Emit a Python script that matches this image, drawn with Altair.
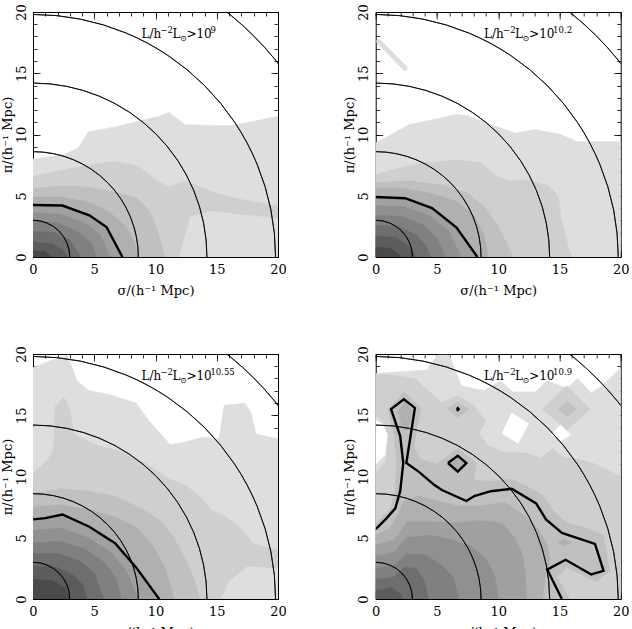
import math
import altair as alt
import pandas as pd

# ---------------------------------------------------------------- data ----
RADII = [3.0, 8.6, 14.2, 19.8, 25.5]          # reference circles, h^-1 Mpc

GREYS = ["#dedede", "#cfcfcf", "#c0c0c0", "#b0b0b0", "#a0a0a0",
         "#909090", "#808080", "#6e6e6e", "#5c5c5c", "#4a4a4a"]

# Each band is the outer boundary of one contour level, outermost first,
# running from the pi axis round to the sigma axis; the region it encloses
# with the origin is filled with that level's grey.
P1_BANDS = [
    [(0, 8.0), (2.5, 8.35), (3.7, 8.9), (4.5, 10.2), (6.6, 10.6), (10.3, 11.5), (11.1, 11.8),
     (12.4, 10.8), (16.0, 10.7), (17.9, 11.05), (20, 11.5), (20, 0)],
    [(0, 6.6), (1.5, 6.9), (4.0, 7.4), (6.7, 7.8), (8.6, 7.4), (10.0, 6.3), (11.1, 5.7), (12.4, 6.2),
     (14.9, 5.2), (17.0, 4.7), (20, 4.15), (20, 3.2), (17.0, 3.5), (14.5, 3.8), (12.8, 3.3), (11.9, 0)],
    [(0, 5.6), (2.5, 5.8), (4.5, 5.7), (6.7, 5.3), (8.5, 4.8), (9.5, 3.8), (10.1, 2.4), (10.5, 1.0), (10.7, 0)],
    [(0, 4.9), (2.3, 4.9), (4.5, 4.5), (6.2, 3.7), (7.6, 2.5), (8.3, 1.2), (8.5, 0)],
    [(0, 4.25), (2.4, 4.2), (4.6, 3.4), (6.0, 2.45), (7.3, 0)],
    [(0, 3.6), (2.2, 3.5), (4.2, 2.8), (5.5, 1.8), (6.3, 0)],
    [(0, 2.9), (2.0, 2.8), (3.6, 2.1), (4.7, 1.2), (5.2, 0)],
    [(0, 2.1), (1.8, 2.0), (3.0, 1.4), (3.9, 0)],
    [(0, 1.2), (1.5, 1.1), (2.5, 0.5), (2.8, 0)],
    [(0, 0.5), (1.0, 0.45), (1.5, 0)],
]
P1_KEY = [[(0, 4.25), (2.4, 4.2), (4.6, 3.4), (6.0, 2.45), (7.3, 0)]]

P2_BANDS = [
    [(0, 9.3), (1.3, 10.0), (2.7, 10.8), (5.1, 11.3), (6.6, 11.65), (7.6, 11.5), (10.0, 10.6),
     (11.4, 10.1), (13.0, 10.4), (15.1, 10.0), (16.5, 9.4), (20, 9.4), (20, 0)],
    [(0, 6.7), (1.3, 7.1), (4.0, 7.7), (6.7, 7.9), (8.6, 7.7), (9.7, 6.7), (10.8, 6.2), (12.4, 6.3),
     (14.1, 5.8), (14.9, 5.0), (15.1, 3.3), (15.7, 0.9), (16.0, 0)],
    [(0, 6.1), (3.0, 6.2), (5.7, 5.8), (7.5, 5.2), (8.9, 4.1), (10.0, 2.5), (10.8, 0.9), (11.2, 0)],
    [(0, 5.6), (2.3, 5.6), (4.5, 5.2), (6.7, 4.5), (8.0, 3.4), (8.8, 1.9), (9.2, 0)],
    [(0, 4.9), (2.4, 4.8), (4.6, 4.0), (6.6, 2.4), (8.3, 0)],
    [(0, 4.2), (2.3, 4.1), (4.3, 3.4), (5.9, 2.2), (7.0, 0)],
    [(0, 3.4), (2.1, 3.3), (3.9, 2.6), (5.0, 1.5), (5.7, 0)],
    [(0, 2.6), (1.9, 2.5), (3.3, 1.8), (4.1, 0.9), (4.5, 0)],
    [(0, 1.7), (1.6, 1.6), (2.7, 0.9), (3.3, 0)],
    [(0, 0.8), (1.3, 0.7), (2.1, 0)],
]
P2_KEY = [[(0, 4.9), (2.4, 4.8), (4.6, 4.0), (6.6, 2.4), (8.3, 0)]]
P2_STREAK = [(0.25, 17.6), (2.4, 15.4)]      # narrow sliver of the lowest level

P3_BANDS = [
    [(0, 18.9), (1.3, 19.4), (2.8, 19.9), (3.6, 17.8), (4.6, 17.0), (6.2, 16.7), (8.4, 16.0),
     (9.5, 14.5), (10.5, 13.4), (11.2, 12.6), (12.4, 12.8), (13.8, 13.2), (15.2, 13.1), (15.6, 15.8),
     (17.3, 16.0), (17.8, 15.2), (18.2, 13.5), (19.3, 13.2), (20, 13.1), (20, 0)],
    [(0, 10.3), (1.2, 11.3), (1.7, 12.3), (1.8, 15.7), (2.5, 16.5), (3.0, 15.5), (3.3, 13.5),
     (5.0, 12.6), (7.0, 12.1), (9.0, 11.2), (11.1, 9.8), (12.4, 9.3), (13.6, 8.4), (14.6, 7.2),
     (15.6, 6.8), (16.8, 5.9), (18.0, 4.5), (20, 4.0), (20, 2.5), (17.5, 2.7), (16.0, 1.5), (15.3, 0)],
    [(0, 8.6), (2.2, 9.0), (4.5, 8.8), (6.7, 8.4), (9.0, 7.3), (10.5, 6.3), (11.5, 5.0),
     (12.4, 3.3), (13.2, 1.5), (13.6, 0)],
    [(0, 7.5), (2.2, 7.7), (4.5, 7.3), (6.7, 6.7), (8.5, 5.8), (9.8, 4.3), (10.8, 2.5), (11.5, 0)],
    [(0, 6.5), (1.0, 6.6), (2.4, 6.9), (4.6, 5.9), (6.7, 4.55), (8.4, 2.6), (10.3, 0)],
    [(0, 5.6), (2.3, 5.8), (4.5, 5.0), (6.4, 3.8), (7.6, 2.3), (8.6, 0)],
    [(0, 4.6), (2.2, 4.7), (4.2, 4.1), (5.8, 3.0), (6.8, 1.7), (7.2, 0)],
    [(0, 3.7), (2.1, 3.7), (3.8, 3.1), (5.0, 2.1), (5.8, 0)],
    [(0, 2.7), (1.9, 2.6), (3.2, 2.0), (4.1, 1.1), (4.4, 0)],
    [(0, 1.6), (1.6, 1.5), (2.6, 0.9), (3.0, 0)],
]
P3_KEY = [[(0, 6.5), (1.0, 6.6), (2.4, 6.9), (4.6, 5.9), (6.7, 4.55), (8.4, 2.6), (10.3, 0)]]

P4_BANDS = [
    [(0, 18.4), (4.2, 18.7), (5.0, 19.9), (6.0, 19.9), (7.0, 17.4), (8.8, 17.0), (10.2, 17.8),
     (11.2, 16.9), (13.0, 16.9), (14.0, 17.8), (15.6, 17.2), (16.5, 18.0), (17.6, 16.8),
     (18.5, 17.4), (19.6, 18.5), (20, 18.8), (20, 0)],
    [(0, 10.3), (0.8, 11.2), (1.0, 13.4), (0.5, 14.6), (0, 15.0), (0, 18.3), (1.0, 18.3), (3.2, 18.0),
     (4.3, 17.0), (5.4, 16.0), (6.7, 16.6), (8.0, 15.8), (9.0, 14.5), (8.4, 13.5), (9.2, 12.5),
     (10.4, 12.0), (12.3, 11.9), (13.5, 11.5), (14.5, 12.3), (15.2, 11.6), (16.5, 11.4),
     (18.0, 11.0), (19.0, 10.5), (20, 10.0), (20, 0)],
    [(0, 6.2), (1.2, 7.3), (1.6, 9.0), (1.7, 11.1), (1.5, 13.4), (1.0, 15.5), (2.3, 16.9), (3.7, 15.6),
     (3.1, 12.5), (3.6, 11.4), (5.0, 11.0), (6.7, 12.3), (8.2, 11.1), (8.0, 9.7), (9.5, 9.6),
     (11.1, 9.8), (12.3, 9.2), (13.6, 8.5), (14.5, 7.2), (15.6, 6.2), (17.2, 5.8), (18.6, 5.2),
     (19.1, 2.3), (18.0, 1.4), (15.6, 2.6), (14.8, 1.8), (15.8, 0)],
    [(0, 5.2), (1.2, 5.8), (1.9, 7.0), (2.3, 8.0), (3.5, 8.4), (5.0, 8.0), (6.7, 7.6), (8.5, 7.6),
     (10.5, 7.9), (12.0, 6.9), (13.2, 5.8), (14.0, 4.5), (14.2, 3.2), (13.8, 1.6), (13.6, 0)],
    [(0, 4.4), (1.5, 4.8), (2.6, 6.3), (4.5, 6.3), (6.7, 6.2), (8.5, 6.4), (10.3, 6.2), (11.3, 5.0),
     (12.0, 3.6), (12.2, 2.0), (12.3, 0)],
    [(0, 3.5), (1.5, 3.8), (2.5, 5.0), (4.4, 5.2), (6.0, 4.9), (7.8, 4.3), (9.0, 3.3), (9.7, 2.0), (10.0, 0)],
    [(0, 2.5), (1.6, 2.8), (2.5, 3.7), (4.0, 3.6), (5.3, 2.8), (6.3, 1.8), (6.8, 0)],
    [(0, 1.6), (1.5, 1.8), (2.3, 2.6), (3.3, 2.5), (4.0, 1.4), (4.3, 0)],
    [(0, 0.7), (1.3, 0.9), (2.0, 0.4), (2.2, 0)],
]
# detached patches of a level: (level index, outline)
P4_ISLANDS = [
    (1, [(13.6, 15.5), (15.6, 17.4), (17.5, 15.5), (15.6, 13.8)]),
    (2, [(14.9, 15.5), (15.6, 16.1), (16.4, 15.5), (15.6, 14.9)]),
    (2, [(5.8, 15.5), (6.7, 16.1), (7.6, 15.5), (6.7, 14.8)]),
    (3, [(1.8, 15.3), (2.4, 16.1), (3.0, 15.3), (2.6, 13.8), (2.2, 13.8)]),
    (3, [(6.1, 11.1), (6.7, 11.6), (7.3, 11.1), (6.7, 10.5)]),
    (3, [(14.8, 4.6), (15.4, 4.9), (16.0, 4.6), (15.4, 4.3)]),
]
# gaps below the lowest level
P4_HOLES = [
    [(0, 11.0), (0.8, 11.8), (1.0, 13.4), (0.5, 14.3), (0, 14.6)],
    [(10.3, 13.5), (11.1, 15.2), (12.5, 14.3), (11.6, 12.7)],
    [(14.3, 13.4), (15.1, 14.2), (15.9, 13.4), (15.1, 12.9)],
]
P4_KEY = [
    [(0, 5.7), (0.8, 6.5), (1.6, 7.4), (2.0, 8.8), (2.25, 11.1), (2.0, 13.3), (1.25, 15.5),
     (2.3, 16.3), (3.2, 15.6), (2.5, 11.1), (3.5, 10.4), (4.8, 9.3), (5.4, 8.9), (7.4, 8.0),
     (8.05, 8.4), (9.4, 8.8), (11.1, 9.0), (13.1, 7.8), (13.9, 6.5), (15.2, 5.4), (17.9, 4.5),
     (18.6, 2.3), (17.6, 2.0), (15.5, 3.2), (14.0, 2.4), (15.2, 0)],
    [(5.9, 11.1), (6.7, 11.7), (7.4, 11.1), (6.7, 10.4), (5.9, 11.1)],
    [(6.62, 15.5), (6.7, 15.58), (6.78, 15.5), (6.7, 15.42), (6.62, 15.5)],
]

EXPONENTS = ["9", "10.2", "10.55", "10.9"]
LABEL_POS = (8.85, 17.9)

MAJOR = [0, 5, 10, 15, 20]
MINOR = list(range(21))
X_TITLE = "σ/(h⁻¹ Mpc)"
Y_TITLE = "π/(h⁻¹ Mpc)"

# -------------------------------------------------------------- styling ----
W = H = 245
FONT = "DejaVu Serif"
XS = alt.Scale(domain=[0, 20], nice=False, zero=False)
YS = alt.Scale(domain=[0, 20], nice=False, zero=False)


def poly_frame(polys):
    rows = []
    for j, pts in enumerate(polys):
        for i, (s, p) in enumerate(pts):
            rows.append({"poly": j, "i": i, "s": s, "p": p})
    return pd.DataFrame(rows)


def fill_layer(polys, colour):
    return alt.Chart(poly_frame(polys)).mark_line(
        fill=colour, stroke=colour, strokeWidth=0.6, clip=True
    ).encode(
        x=alt.X("s:Q", scale=XS, axis=None),
        y=alt.Y("p:Q", scale=YS, axis=None),
        detail="poly:N",
        order="i:Q",
    )


def axis(orient, values, size, **kw):
    return alt.Axis(orient=orient, values=values, tickSize=size, offset=-size,
                    domain=False, grid=False, tickColor="black", tickWidth=0.8,
                    labelFlush=False, labelOverlap=False, **kw)


def axis_layer(xaxis, yaxis):
    return alt.Chart(pd.DataFrame({"s": [0], "p": [0]})).mark_point(opacity=0).encode(
        x=alt.X("s:Q", scale=XS, axis=xaxis),
        y=alt.Y("p:Q", scale=YS, axis=yaxis),
    )


LABEL_KW = dict(labelFont=FONT, labelFontSize=13, labelColor="black",
                titleFont=FONT, titleFontSize=13, titleFontWeight="normal", titleColor="black")


def panel(bands, key_lines, exponent, islands=(), holes=(), streak=None):
    layers = []
    for k, band in enumerate(bands):
        polys = [[(0, 0)] + band] + [pts for lev, pts in islands if lev == k]
        layers.append(fill_layer(polys, GREYS[k]))
        if k == 0:
            if streak:
                layers.append(
                    alt.Chart(poly_frame([streak])).mark_line(
                        color=GREYS[0], strokeWidth=5, strokeCap="round", clip=True
                    ).encode(x=alt.X("s:Q", scale=XS, axis=None),
                             y=alt.Y("p:Q", scale=YS, axis=None),
                             detail="poly:N", order="i:Q"))
            if holes:
                layers.append(fill_layer(list(holes), "white"))

    arcs = alt.Chart(pd.DataFrame({"r": RADII})).mark_arc(
        theta=0, theta2=math.pi / 2, filled=False, stroke="black", strokeWidth=0.8, clip=True
    ).encode(
        x=alt.X(datum=0, axis=None),
        y=alt.Y(datum=0, axis=None),
        radius=alt.Radius("r:Q", scale=alt.Scale(type="linear", domain=[0, 20], range=[0, W])),
        radius2=alt.Radius2("r:Q"),
    )
    layers.append(arcs)

    key = alt.Chart(poly_frame(key_lines)).mark_line(
        color="black", strokeWidth=2.4, strokeJoin="miter", clip=True
    ).encode(
        x=alt.X("s:Q", scale=XS, axis=None),
        y=alt.Y("p:Q", scale=YS, axis=None),
        detail="poly:N",
        order="i:Q",
    )
    layers.append(key)

    # L/h^-2 L_sun > 10^exponent, set piece by piece
    pos = pd.DataFrame({"s": [LABEL_POS[0]], "p": [LABEL_POS[1]]})
    pieces = [("L/h", 0, 0, 12), ("−2", 19, -5, 8.5), ("L", 31, 0, 12),
              ("⊙", 38.5, 3, 8), (">10", 45, 0, 12), (exponent, 69, -5, 8.5)]
    for txt, dx, dy, fs in pieces:
        layers.append(alt.Chart(pos).mark_text(
            text=txt, align="left", baseline="alphabetic", dx=dx, dy=dy,
            font=FONT, fontSize=fs, color="black"
        ).encode(x=alt.X("s:Q", axis=None), y=alt.Y("p:Q", axis=None)))

    # frame ticks on all four sides, pointing inwards
    layers.append(axis_layer(
        axis("bottom", MAJOR, 7, labelPadding=6, format="d", title=X_TITLE, titlePadding=8, **LABEL_KW),
        axis("left", MAJOR, 7, labelPadding=5, format="d", labelAngle=270, labelAlign="center",
             labelBaseline="bottom", title=Y_TITLE, titlePadding=1, **LABEL_KW)))
    layers.append(axis_layer(axis("bottom", MINOR, 4, labels=False, title=None),
                             axis("left", MINOR, 4, labels=False, title=None)))
    layers.append(axis_layer(axis("top", MAJOR, 7, labels=False, title=None),
                             axis("right", MAJOR, 7, labels=False, title=None)))
    layers.append(axis_layer(axis("top", MINOR, 4, labels=False, title=None),
                             axis("right", MINOR, 4, labels=False, title=None)))

    return alt.layer(*layers).resolve_axis(x="independent", y="independent").properties(
        width=W, height=H)


p1 = panel(P1_BANDS, P1_KEY, EXPONENTS[0])
p2 = panel(P2_BANDS, P2_KEY, EXPONENTS[1], streak=P2_STREAK)
p3 = panel(P3_BANDS, P3_KEY, EXPONENTS[2])
p4 = panel(P4_BANDS, P4_KEY, EXPONENTS[3], islands=P4_ISLANDS, holes=P4_HOLES)

chart = alt.concat(
    p1, p2, p3, p4, columns=2,
    spacing={"row": 97, "column": 97.7}, bounds="flush",
).properties(
    padding={"left": 0, "top": 3, "right": 0, "bottom": 0}
).configure_view(
    stroke="black", strokeWidth=1, fill="white"
)

chart.save("out.html", embed_options={"renderer": "svg", "actions": False})
